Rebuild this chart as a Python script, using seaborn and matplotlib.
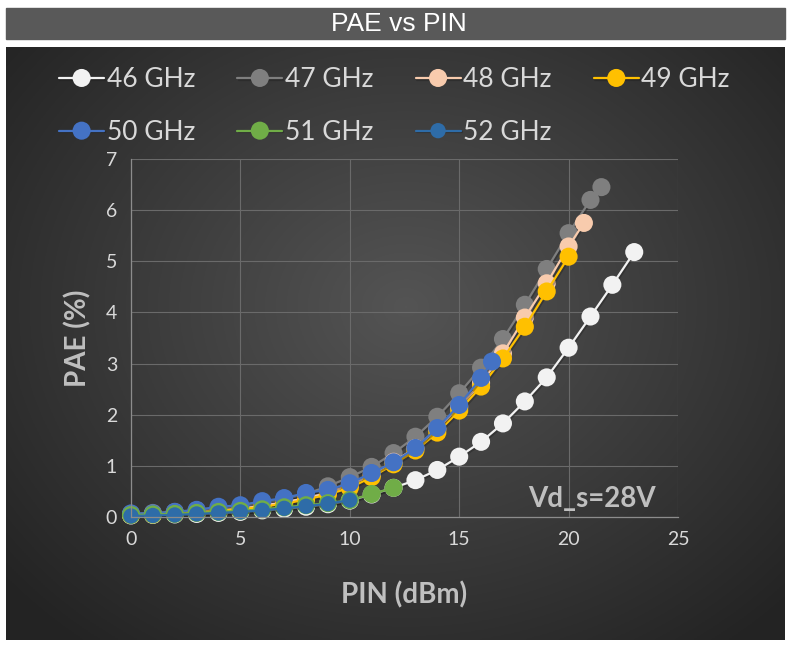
import numpy as np
import pandas as pd
import matplotlib
matplotlib.use("Agg")
import matplotlib.pyplot as plt
import matplotlib.patheffects as pe
from matplotlib.patches import Rectangle
import seaborn as sns

# --- data ---
pin_46 = list(range(0, 24))
pae_46 = [0.03, 0.04, 0.05, 0.06, 0.08, 0.10, 0.13, 0.16, 0.20, 0.25, 0.32, 0.44,
          0.57, 0.72, 0.92, 1.18, 1.47, 1.83, 2.26, 2.73, 3.31, 3.92, 4.54, 5.18]

pin_47 = list(range(0, 22)) + [21.5]
pae_47 = [0.06, 0.08, 0.10, 0.13, 0.17, 0.21, 0.27, 0.35, 0.45, 0.60, 0.78, 0.98,
          1.25, 1.57, 1.96, 2.42, 2.92, 3.48, 4.15, 4.85, 5.55, 6.20, 6.45]

pin_48 = list(range(0, 21)) + [20.7]
pae_48 = [0.05, 0.06, 0.08, 0.10, 0.13, 0.17, 0.22, 0.29, 0.37, 0.48, 0.62, 0.82,
          1.08, 1.35, 1.72, 2.15, 2.62, 3.20, 3.90, 4.57, 5.29, 5.75]

pin_49 = list(range(0, 21))
pae_49 = [0.04, 0.05, 0.07, 0.09, 0.12, 0.15, 0.20, 0.26, 0.34, 0.44, 0.57, 0.78,
          1.03, 1.30, 1.65, 2.08, 2.55, 3.10, 3.72, 4.41, 5.09]

pin_50 = list(range(0, 17)) + [16.5]
pae_50 = [0.07, 0.07, 0.10, 0.14, 0.20, 0.23, 0.31, 0.37, 0.47, 0.53, 0.66, 0.86,
          1.07, 1.35, 1.74, 2.19, 2.72, 3.04]

pin_51 = list(range(0, 13))
pae_51 = [0.04, 0.05, 0.06, 0.08, 0.10, 0.12, 0.15, 0.19, 0.23, 0.27, 0.33, 0.45, 0.57]

pin_52 = list(range(0, 11))
pae_52 = [0.02, 0.03, 0.04, 0.06, 0.08, 0.10, 0.13, 0.17, 0.21, 0.26, 0.33]

labels = ["46 GHz", "47 GHz", "48 GHz", "49 GHz", "50 GHz", "51 GHz", "52 GHz"]
colors = ["#F2F2F2", "#7F7F7F", "#F8CBAD", "#FFC000", "#4472C4", "#70AD47", "#2E6CA8"]
xs = [pin_46, pin_47, pin_48, pin_49, pin_50, pin_51, pin_52]
ys = [pae_46, pae_47, pae_48, pae_49, pae_50, pae_51, pae_52]

sns.set_theme(style="dark")
plt.rcParams['font.family'] = ['Lato', 'DejaVu Sans']

W, H = 791, 646
fig = plt.figure(figsize=(W / 100, H / 100), dpi=100)
fig.patch.set_facecolor("white")

# title bar
fig.patches.append(Rectangle((6 / W, 1 - 39 / H), 779 / W, 31 / H,
                             transform=fig.transFigure, color="#595959", zorder=0))
fig.text(399 / W, 1 - 24 / H, "PAE vs PIN", color="white", fontsize=19,
         ha="center", va="center", family=["Liberation Sans Narrow", "Liberation Sans"])

# dark radial gradient panel
bg = fig.add_axes([6 / W, 1 - 640 / H, 779 / W, 593 / H])
gx, gy = np.meshgrid(np.linspace(0, 779, 400), np.linspace(0, 593, 300))
r = np.sqrt(((gx - 400) / 520) ** 2 + ((gy - 260) / 430) ** 2)
r = np.clip(r, 0, 1)
shade = 0.33 - 0.19 * r
bg.imshow(np.dstack([shade] * 3), aspect="auto", extent=[0, 779, 593, 0])
bg.set_axis_off()

ax = fig.add_axes([131 / W, 1 - 517 / H, 547 / W, 358 / H])
ax.set_facecolor("none")

sizes = [13, 13, 13, 13, 13, 13, 11]
for x, y, c, lab, ms in zip(xs, ys, colors, labels, sizes):
    sns.lineplot(x=x, y=y, ax=ax, color=c, marker="o", markersize=ms,
                 markeredgewidth=0, linewidth=1.6, label=lab, clip_on=False,
                 path_effects=[pe.SimpleLineShadow(offset=(0.8, -1.2), alpha=0.35),
                               pe.Normal()])

ax.set_xlim(0, 25)
ax.set_ylim(0, 7)
ax.set_xticks(range(0, 26, 5))
ax.set_yticks(range(0, 8))
ax.grid(True, color="#6A6A6A", linewidth=0.8)
for s in ["top", "right"]:
    ax.spines[s].set_visible(False)
for s in ["left", "bottom"]:
    ax.spines[s].set_visible(True)
    ax.spines[s].set_color("#8C8C8C")
    ax.spines[s].set_linewidth(0.9)
ax.tick_params(colors="#D9D9D9", labelsize=14, length=0, pad=10)
ax.set_xlabel("PIN (dBm)", color="#BFBFBF", fontsize=20, fontweight="bold", labelpad=24)
ax.set_ylabel("PAE (%)", color="#BFBFBF", fontsize=20, fontweight="bold", labelpad=10)
ax.text(24.0, 0.35, "Vd_s=28V", color="#BFBFBF", fontsize=20, fontweight="bold",
        ha="right", va="center")

handles, labs = ax.get_legend_handles_labels()
ax.get_legend().remove()
# legend fills column by column; reorder so rows read 46..49 / 50..52
order = [0, 4, 1, 5, 2, 6, 3]
fig.legend([handles[i] for i in order], [labs[i] for i in order],
           loc="upper left", bbox_to_anchor=(46 / W, 1 - 54 / H),
           ncol=4, frameon=False, fontsize=19, labelcolor="#D9D9D9",
           handlelength=1.7, handletextpad=0.1, columnspacing=1.6,
           labelspacing=1.05, borderpad=0)

fig.savefig("out.png", dpi=100)
